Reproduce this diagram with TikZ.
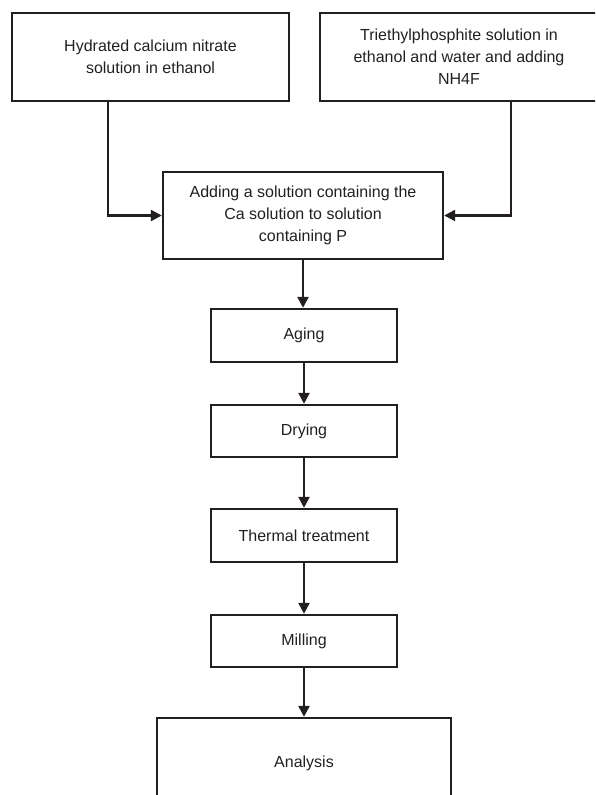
\documentclass[tikz,border=0pt]{standalone}
\usepackage{fontspec}
\setmainfont{Liberation Sans}
\usetikzlibrary{arrows.meta}
\definecolor{ink}{HTML}{231F20}
\tikzset{
  box/.style={draw=ink, line width=2.4pt, rectangle, align=center, text=ink,
    font=\fontsize{16pt}{22pt}\selectfont, inner sep=0pt},
  arr/.style={draw=ink, line width=2.4pt, -{Triangle[length=11pt,width=11pt]}}
}
\begin{document}
\begin{tikzpicture}[x=1pt,y=-1pt]
\useasboundingbox (0,0) rectangle (595,795);
\clip (0,0) rectangle (595,795);
\node[box, minimum width=277pt, minimum height=88pt] (A) at (150.5,57)
  {Hydrated calcium nitrate\\solution in ethanol};
\node[box, minimum width=278pt, minimum height=88pt] (B) at (459,57)
  {Triethylphosphite solution in\\ethanol and water and adding\\NH4F};
\node[box, minimum width=280pt, minimum height=87pt] (M) at (303,215.5)
  {Adding a solution containing the\\Ca solution to solution\\containing P};
\node[box, minimum width=186pt, minimum height=53pt] (Ag) at (304,335.5) {Aging};
\node[box, minimum width=186pt, minimum height=52pt] (Dr) at (304,431) {Drying};
\node[box, minimum width=186pt, minimum height=53pt] (Th) at (304,535.5) {Thermal treatment};
\node[box, minimum width=186pt, minimum height=52pt] (Mi) at (304,641) {Milling};
\node[box, minimum width=294pt, minimum height=90pt] (An) at (304,763) {Analysis};
\draw[arr] ([xshift=-42.5pt]A.south) |- (M.west);
\draw[arr] ([xshift=52pt]B.south) |- (M.east);
\draw[arr] (M.south) -- (M.south |- Ag.north);
\draw[arr] (Ag.south) -- (Dr.north);
\draw[arr] (Dr.south) -- (Th.north);
\draw[arr] (Th.south) -- (Mi.north);
\draw[arr] (Mi.south) -- (An.north);
\end{tikzpicture}
\end{document}
